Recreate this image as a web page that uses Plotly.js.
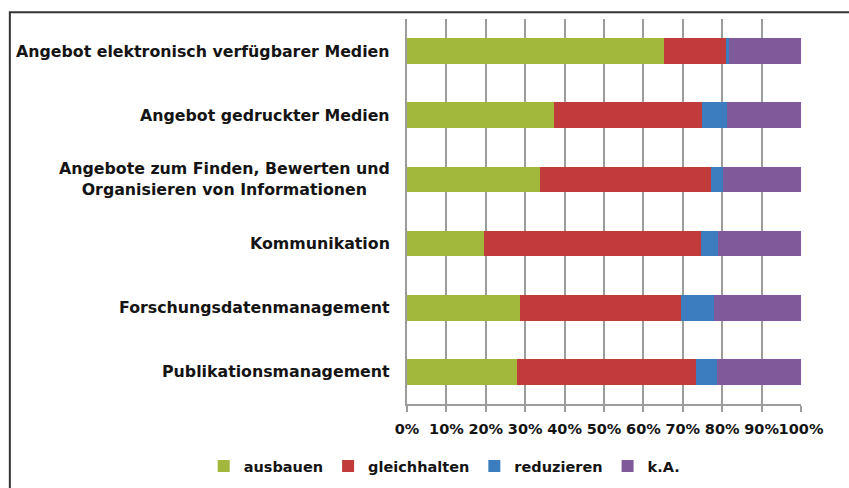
<!DOCTYPE html>
<html>
<head>
<meta charset="utf-8">
<script src="https://cdn.plot.ly/plotly-3.0.1.min.js"></script>
<style>html,body{margin:0;padding:0;background:#fff;}#chart{width:849px;height:488px;}</style>
</head>
<body>
<div id="chart"></div>
<script>
var categories = [
  "Angebot elektronisch verfügbarer Medien",
  "Angebot gedruckter Medien",
  "Angebote zum Finden, Bewerten und<br>Organisieren von Informationen",
  "Kommunikation",
  "Forschungsdatenmanagement",
  "Publikationsmanagement"
];
var seriesNames = ["ausbauen", "gleichhalten", "reduzieren", "k.A."];
var ausbauen     = [65.3, 37.3, 33.7, 19.5, 28.8, 27.9];
var gleichhalten = [15.7, 37.5, 43.4, 55.1, 40.7, 45.5];
var reduzieren   = [0.6, 6.5, 3.1, 4.4, 8.3, 5.3];
var kA           = [18.4, 18.7, 19.8, 21.0, 22.2, 21.3];
var colors = ["#A2B83C", "#C03B39", "#3C7DC0", "#7F5A9A"];
var tickVals = [0, 0.1, 0.2, 0.3, 0.4, 0.5, 0.6, 0.7, 0.8, 0.9, 1.0];

var FONT = "DejaVu Sans, sans-serif";
var allSeries = [ausbauen, gleichhalten, reduzieren, kA];
var traces = allSeries.map(function (vals, i) {
  return {
    type: "bar",
    orientation: "h",
    name: seriesNames[i],
    y: categories,
    x: vals.map(function (v) { return v / 100; }),
    marker: { color: colors[i], line: { width: 0 } },
    hoverinfo: "x+name"
  };
});

var annotations = categories.map(function (c) {
  return {
    xref: "paper", yref: "y",
    x: -0.038, y: c,
    xanchor: "right", yanchor: "middle",
    align: "center",
    text: c,
    showarrow: false,
    font: { family: FONT, size: 15.8, color: "#141414", weight: "bold" }
  };
});

var layout = {
  width: 849, height: 488,
  margin: { l: 407, r: 48, t: 19, b: 84, pad: 0, autoexpand: false },
  barmode: "stack",
  bargap: 0.6,
  paper_bgcolor: "#ffffff",
  plot_bgcolor: "#ffffff",
  font: { family: FONT, size: 14.5, color: "#141414", weight: "bold" },
  xaxis: {
    range: [0, 1],
    tickvals: tickVals,
    tickformat: ".0%",
    tickangle: 0,
    ticklabelstandoff: 5,
    showgrid: true,
    gridcolor: "#9c9c9c",
    gridwidth: 1.5,
    zeroline: false,
    showline: true,
    linecolor: "#9c9c9c",
    linewidth: 1.5,
    ticks: "outside",
    ticklen: 6,
    tickwidth: 1.5,
    tickcolor: "#9c9c9c",
    tickfont: { family: FONT, size: 14.5, color: "#141414", weight: "bold" },
    fixedrange: true
  },
  yaxis: {
    autorange: "reversed",
    showticklabels: false,
    showgrid: false,
    zeroline: false,
    showline: true,
    linecolor: "#9c9c9c",
    linewidth: 1.5,
    ticks: "",
    fixedrange: true
  },
  showlegend: true,
  legend: {
    orientation: "h",
    xref: "paper", yref: "paper",
    x: -0.516, xanchor: "left",
    y: -0.161, yanchor: "middle",
    traceorder: "normal",
    font: { family: FONT, size: 14.5, color: "#141414", weight: "bold" },
    itemclick: false
  },
  annotations: annotations,
  shapes: [{
    type: "rect", xref: "paper", yref: "paper",
    x0: -1.008, x1: 1.5, y0: -0.5, y1: 1.0175,
    line: { color: "#333333", width: 2 },
    fillcolor: "rgba(0,0,0,0)",
    layer: "above"
  }]
};

Plotly.newPlot("chart", traces, layout, { displayModeBar: false, staticPlot: false });
</script>
</body>
</html>
